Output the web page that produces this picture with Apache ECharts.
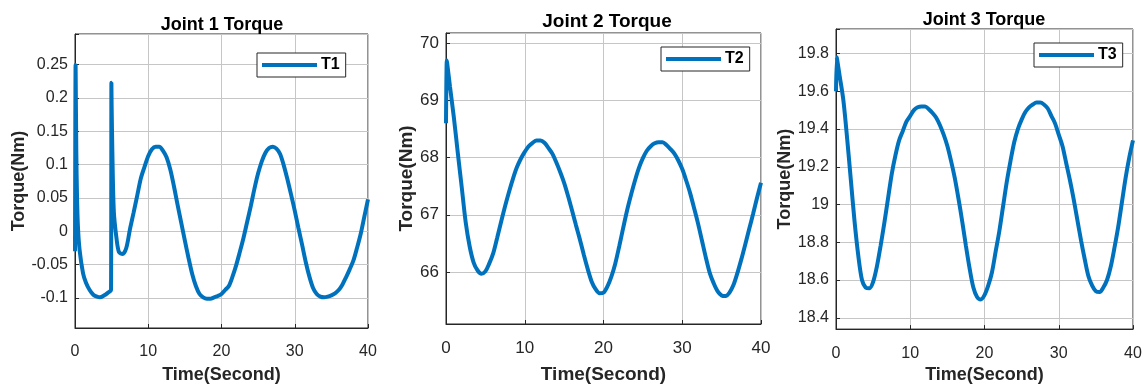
<!DOCTYPE html>
<html>
<head>
<meta charset="utf-8">
<script src="https://cdn.jsdelivr.net/npm/echarts@6/dist/echarts.min.js"></script>
<style>
  html, body { margin: 0; padding: 0; background: #fff; }
  #main { width: 1145px; height: 389px; }
</style>
</head>
<body>
<div id="main"></div>
<script>
// time (s) for joint 1, finer around the two spikes
const timeT1 = [0, 0.08, 0.09, 0.18, 0.28, 0.41, 0.64, 1.1, 1.5, 2, 2.5, 3, 3.4, 4, 4.5, 4.92, 4.97, 5.0, 5.1, 5.3, 5.66, 6, 6.5,
  7, 7.5, 8, 8.5, 9, 9.5, 10, 10.5, 11, 11.5, 12, 12.5, 13, 13.5, 14, 14.5, 15, 15.5, 16, 16.5, 17, 17.5, 18, 18.5, 19, 19.5,
  20, 20.5, 21, 21.5, 22, 22.5, 23, 23.5, 24, 24.5, 25, 25.5, 26, 26.5, 27, 27.5, 28, 28.5, 29, 29.5,
  30, 30.5, 31, 31.5, 32, 32.5, 33, 33.5, 34, 34.5, 35, 35.5, 36, 36.5, 37, 37.5, 38, 38.5, 39, 39.5, 40];
const torqueT1 = [-0.03, 0.25, 0.24, 0.12, 0.05, 0.005, -0.029, -0.063, -0.077, -0.088, -0.095, -0.098, -0.099, -0.096, -0.092, -0.088, 0.223, 0.19, 0.12, 0.03, -0.01, -0.031, -0.034,
  -0.025, 0.003, 0.028, 0.054, 0.080, 0.097, 0.113, 0.123, 0.127, 0.127, 0.121, 0.111, 0.093, 0.068, 0.040, 0.013, -0.014, -0.040, -0.064, -0.082, -0.094, -0.099, -0.101, -0.101, -0.099, -0.097,
  -0.094, -0.088, -0.082, -0.068, -0.051, -0.031, -0.010, 0.014, 0.038, 0.064, 0.087, 0.105, 0.118, 0.125, 0.127, 0.124, 0.116, 0.099, 0.078, 0.055,
  0.031, 0.005, -0.020, -0.046, -0.068, -0.085, -0.094, -0.098, -0.099, -0.098, -0.096, -0.093, -0.088, -0.080, -0.069, -0.057, -0.044, -0.025, -0.004, 0.022, 0.048];

// time (s) for joints 2 and 3
const timeT23 = [0, 0.1, 0.15, 0.5, 1, 1.5, 2, 2.5, 3, 3.5, 4, 4.5, 5, 5.5, 6, 6.5, 7, 7.5, 8, 8.5, 9, 9.5,
  10, 10.5, 11, 11.5, 12, 12.5, 13, 13.5, 14, 14.5, 15, 15.5, 16, 16.5, 17, 17.5, 18, 18.5, 19, 19.5,
  20, 20.5, 21, 21.5, 22, 22.5, 23, 23.5, 24, 24.5, 25, 25.5, 26, 26.5, 27, 27.5, 28, 28.5, 29, 29.5,
  30, 30.5, 31, 31.5, 32, 32.5, 33, 33.5, 34, 34.5, 35, 35.5, 36, 36.5, 37, 37.5, 38, 38.5, 39, 39.5, 40];
const torqueT2 = [68.6, 69.7, 69.65, 69.25, 68.7, 68.08, 67.48, 66.87, 66.45, 66.17, 66.03, 65.97, 66.01, 66.15, 66.33, 66.6, 66.88, 67.15, 67.4, 67.63, 67.83, 67.98,
  68.1, 68.2, 68.26, 68.3, 68.3, 68.26, 68.17, 68.07, 67.92, 67.75, 67.56, 67.33, 67.08, 66.82, 66.57, 66.3, 66.05, 65.83, 65.7, 65.63,
  65.64, 65.75, 65.92, 66.15, 66.45, 66.77, 67.08, 67.35, 67.6, 67.82, 67.99, 68.12, 68.2, 68.25, 68.27, 68.27, 68.22, 68.15, 68.07, 67.95,
  67.8, 67.6, 67.38, 67.12, 66.85, 66.55, 66.25, 65.98, 65.8, 65.66, 65.59, 65.58, 65.64, 65.77, 65.98, 66.22, 66.48, 66.75, 67.02, 67.3, 67.56];
const torqueT3 = [19.6, 19.78, 19.77, 19.68, 19.55, 19.35, 19.13, 18.91, 18.73, 18.6, 18.56, 18.556, 18.59, 18.67, 18.78, 18.9, 19.03, 19.16, 19.26, 19.34, 19.39, 19.44,
  19.47, 19.5, 19.515, 19.52, 19.52, 19.505, 19.485, 19.46, 19.42, 19.37, 19.31, 19.23, 19.14, 19.03, 18.91, 18.78, 18.66, 18.56, 18.51, 18.497,
  18.52, 18.57, 18.64, 18.75, 18.86, 18.99, 19.12, 19.23, 19.33, 19.4, 19.45, 19.49, 19.515, 19.53, 19.54, 19.54, 19.53, 19.51, 19.47, 19.43,
  19.37, 19.31, 19.22, 19.13, 19.03, 18.92, 18.81, 18.71, 18.62, 18.57, 18.54, 18.536, 18.56, 18.6, 18.67, 18.77, 18.88, 19.01, 19.14, 19.25, 19.34];

const titles = ['Joint 1 Torque', 'Joint 2 Torque', 'Joint 3 Torque'];
const names = ['T1', 'T2', 'T3'];
const yLimits = [[-0.145, 0.296], [65.09, 70.18], [18.34, 19.93]];
const yStep = [0.05, 1, 0.2];

const FONT = '"Liberation Sans", Arial, Helvetica, sans-serif';
const TXT = '#262626';
const BLUE = '#0072BD';

// panel layout (px)
const grids = [
  {left: 75, top: 34, width: 293, height: 302},
  {left: 446, top: 33, width: 315, height: 300},
  {left: 836, top: 29, width: 297, height: 304}
];
const titlePos = [[222, 16], [607, 12], [984, 11]];
const legendPos = [[257, 53], [661, 47], [1034, 43]];
const yNameGap = [43, 30, 41];
const xNameGap = [38, 41, 36];
const fs = [16, 17, 16];

function pairs(xs, ys) {
  return xs.map((x, i) => [x, ys[i]]);
}
const seriesData = [pairs(timeT1, torqueT1), pairs(timeT23, torqueT2), pairs(timeT23, torqueT3)];

let myChart = echarts.init(document.getElementById('main'), null, {renderer: 'canvas'});

let option = {
  animation: false,
  backgroundColor: '#fff',
  textStyle: {fontFamily: FONT},
  title: titles.map((t, i) => ({
    text: t,
    left: titlePos[i][0],
    top: titlePos[i][1],
    textAlign: 'center',
    padding: 0,
    textStyle: {fontFamily: FONT, fontSize: fs[i] + 2, fontWeight: 'bold', color: '#000'}
  })),
  legend: names.map((n, i) => ({
    data: [n],
    left: legendPos[i][0],
    top: legendPos[i][1],
    orient: 'vertical',
    icon: 'rect',
    itemWidth: 55,
    itemHeight: 4,
    padding: [4, 6, 4, 5],
    borderColor: TXT,
    borderWidth: 1,
    borderRadius: 0,
    backgroundColor: '#fff',
    textStyle: {fontFamily: FONT, fontSize: 16, fontWeight: 'bold', color: '#000', padding: [0, 0, 0, -1]}
  })),
  grid: grids.map(g => ({...g, show: true, borderColor: TXT, borderWidth: 1, backgroundColor: 'transparent'})),
  xAxis: grids.map((g, i) => ({
    type: 'value',
    gridIndex: i,
    min: 0,
    max: 40,
    interval: 10,
    name: 'Time(Second)',
    nameLocation: 'middle',
    nameGap: xNameGap[i],
    nameTextStyle: {fontFamily: FONT, fontSize: fs[i] + 2, fontWeight: 'bold', color: TXT},
    axisLine: {show: true, onZero: false, lineStyle: {color: TXT, width: 1}},
    axisTick: {show: true, inside: true, length: 4, lineStyle: {color: TXT}},
    axisLabel: {fontFamily: FONT, fontSize: fs[i], color: TXT, margin: 16},
    splitLine: {show: true, lineStyle: {color: '#c6c6c6', width: 1}}
  })),
  yAxis: grids.map((g, i) => ({
    type: 'value',
    gridIndex: i,
    min: yLimits[i][0],
    max: yLimits[i][1],
    minInterval: yStep[i],
    maxInterval: yStep[i],
    name: 'Torque(Nm)',
    nameLocation: 'middle',
    nameGap: yNameGap[i],
    nameTextStyle: {fontFamily: FONT, fontSize: fs[i] + 2, fontWeight: 'bold', color: TXT},
    axisLine: {show: true, onZero: false, lineStyle: {color: TXT, width: 1}},
    axisTick: {show: true, inside: true, length: 4, lineStyle: {color: TXT}},
    axisLabel: {
      fontFamily: FONT, fontSize: fs[i], color: TXT, margin: 7,
      formatter: (v) => {
        let k = v / yStep[i];
        if (Math.abs(k - Math.round(k)) > 1e-6) return '';
        return String(+v.toFixed(3));
      }
    },
    splitLine: {show: true, lineStyle: {color: '#c6c6c6', width: 1}}
  })),
  series: names.map((n, i) => ({
    name: n,
    type: 'line',
    xAxisIndex: i,
    yAxisIndex: i,
    data: seriesData[i],
    showSymbol: false,
    symbol: 'none',
    smooth: 0.3,
    clip: true,
    color: BLUE,
    lineStyle: {color: BLUE, width: 4}
  }))
};
myChart.setOption(option);
</script>
</body>
</html>
